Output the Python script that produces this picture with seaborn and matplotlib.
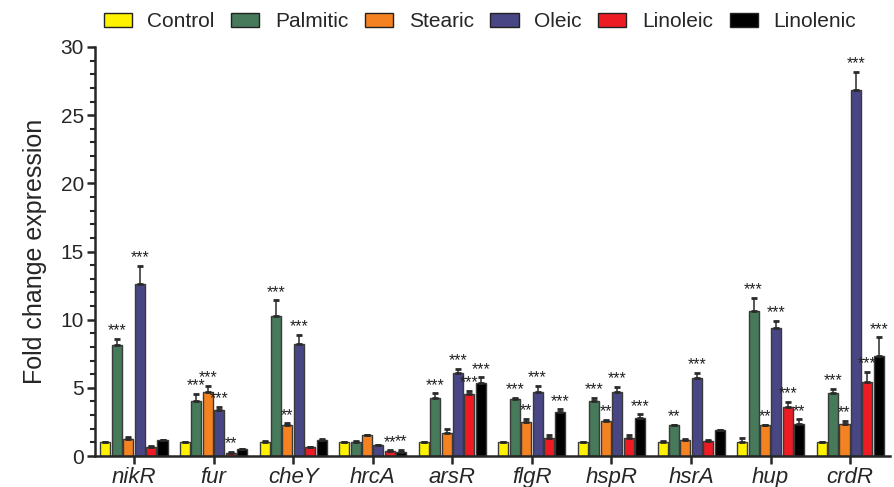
import numpy as np
import pandas as pd
import matplotlib
matplotlib.use("Agg")
import matplotlib.pyplot as plt
from matplotlib.ticker import MultipleLocator
import seaborn as sns

# ── data ─────────────────────────────────────────────────────────────────────
genes = ["nikR", "fur", "cheY", "hrcA", "arsR", "flgR", "hspR", "hsrA", "hup", "crdR"]
treatments = ["Control", "Palmitic", "Stearic", "Oleic", "Linoleic", "Linolenic"]

control   = [1.0, 1.0, 1.0, 1.0, 1.0, 1.0, 1.0, 1.0, 1.0, 1.0]
palmitic  = [8.17, 4.02, 10.27, 1.05, 4.22, 4.15, 4.07, 2.27, 10.66, 4.59]
stearic   = [1.22, 4.66, 2.24, 1.54, 1.68, 2.49, 2.56, 1.17, 2.27, 2.32]
oleic     = [12.65, 3.34, 8.24, 0.78, 6.07, 4.68, 4.73, 5.71, 9.42, 26.85]
linoleic  = [0.68, 0.25, 0.63, 0.37, 4.54, 1.35, 1.35, 1.10, 3.63, 5.46]
linolenic = [1.15, 0.49, 1.15, 0.30, 5.39, 3.20, 2.76, 1.90, 2.34, 7.30]

control_err   = [0.05, 0.05, 0.10, 0.04, 0.05, 0.03, 0.03, 0.12, 0.30, 0.05]
palmitic_err  = [0.40, 0.54, 1.14, 0.05, 0.37, 0.09, 0.20, 0.04, 0.92, 0.36]
stearic_err   = [0.19, 0.51, 0.15, 0.03, 0.27, 0.24, 0.07, 0.10, 0.03, 0.27]
oleic_err     = [1.27, 0.29, 0.63, 0.03, 0.34, 0.49, 0.32, 0.36, 0.48, 1.35]
linoleic_err  = [0.05, 0.04, 0.03, 0.04, 0.21, 0.17, 0.19, 0.04, 0.34, 0.71]
linolenic_err = [0.03, 0.03, 0.10, 0.14, 0.37, 0.22, 0.29, 0.03, 0.34, 1.40]

control_sig   = [""] * 10
palmitic_sig  = ["***", "***", "***", "", "***", "***", "***", "**", "***", "***"]
stearic_sig   = ["", "***", "**", "", "", "**", "**", "", "**", "**"]
oleic_sig     = ["***", "***", "***", "", "***", "***", "***", "***", "***", "***"]
linoleic_sig  = ["", "**", "", "**", "***", "", "", "", "***", "***"]
linolenic_sig = ["", "", "", "**", "***", "***", "***", "", "**", "***"]

colors = ["#FFF200", "#467A5A", "#F58220", "#484685", "#ED1C24", "#000000"]

means = [control, palmitic, stearic, oleic, linoleic, linolenic]
errs = [control_err, palmitic_err, stearic_err, oleic_err, linoleic_err, linolenic_err]
sigs = [control_sig, palmitic_sig, stearic_sig, oleic_sig, linoleic_sig, linolenic_sig]

rows = []
for t, vals in zip(treatments, means):
    for g, v in zip(genes, vals):
        rows.append({"gene": g, "treatment": t, "value": v})
df = pd.DataFrame(rows)

# ── plot ─────────────────────────────────────────────────────────────────────
sns.set_style("ticks")
plt.rcParams['font.family'] = ['Liberation Sans', 'DejaVu Sans']

fig = plt.figure(figsize=(8.95, 4.87), dpi=100)
ax = fig.add_axes([95 / 895, 1 - 456 / 487, 795 / 895, 409 / 487])

sns.barplot(data=df, x="gene", y="value", hue="treatment", order=genes,
            hue_order=treatments, palette=colors, saturation=1, errorbar=None,
            width=0.86, gap=0.12, edgecolor="#3a3a3a", linewidth=1.0, ax=ax)

# upward-only SEM bars + significance stars
for cont, err, sig in zip(ax.containers, errs, sigs):
    xs = np.array([p.get_x() + p.get_width() / 2 for p in cont])
    hs = np.array([p.get_height() for p in cont])
    e = np.array(err)
    ax.errorbar(xs, hs, yerr=[np.zeros_like(e), e], fmt="none", ecolor="#2a2a2a",
                elinewidth=1.1, capsize=2.3, capthick=2.0, zorder=3)
    for x, top, s in zip(xs, hs + e, sig):
        if s:
            ax.text(x, top + 0.05, s, ha="center", va="bottom", fontsize=11.5,
                    color="#222222")

ax.set_ylim(0, 30)
ax.set_xlim(-0.49, 9.5)
ax.yaxis.set_major_locator(MultipleLocator(5))
ax.yaxis.set_minor_locator(MultipleLocator(1))
sns.despine(ax=ax)
for s in ["left", "bottom"]:
    ax.spines[s].set_linewidth(1.8)
ax.tick_params(axis="y", which="major", length=6, width=1.8, labelsize=15, pad=2)
ax.tick_params(axis="y", which="minor", length=3.5, width=1.5)
ax.tick_params(axis="x", length=6, width=1.8, labelsize=16, pad=2)
for lab in ax.get_xticklabels():
    lab.set_style("italic")
ax.set_xlabel("")
ax.set_ylabel("Fold change expression", fontsize=18, labelpad=10)

sns.move_legend(ax, "center", bbox_to_anchor=(0.484, 1.062), ncol=6,
                frameon=False, title=None, fontsize=15, handlelength=1.35,
                handleheight=0.7, handletextpad=0.75, columnspacing=0.8)
for h in ax.get_legend().legend_handles:
    h.set_edgecolor("#222222")
    h.set_linewidth(1.0)

fig.savefig("out.png", dpi=100)
plt.close(fig)
